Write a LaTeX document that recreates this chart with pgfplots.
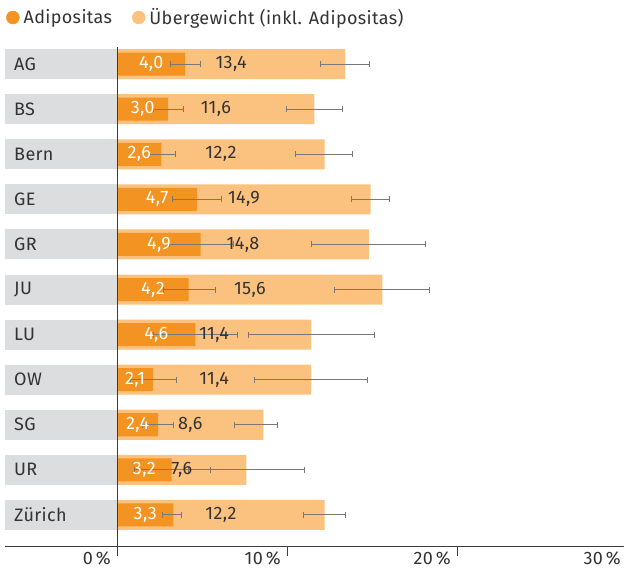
\documentclass[border=0pt]{standalone}
\usepackage{pgfplots}
\pgfplotsset{compat=1.18}
\usepackage{pgfplotstable}
\usepackage{fontspec}
\setmainfont{Fira Sans}[LetterSpace=2]
\definecolor{darkor}{HTML}{F39322}
\definecolor{lightor}{HTML}{FBC17F}
\definecolor{boxgray}{HTML}{DCDDDF}
\definecolor{errgray}{HTML}{787878}
\definecolor{txt}{HTML}{333333}
\definecolor{axisgray}{HTML}{3C3C3C}
\newcommand\lbl{\fontsize{18}{20}\selectfont}
\pgfplotstableread{
i name adip am ap over om op
0 AG 4.0 0.86 0.90 13.4 1.46 1.42
1 BS 3.0 0.88 0.88 11.6 1.64 1.62
2 Bern 2.6 0.72 0.85 12.2 1.69 1.64
3 GE 4.7 1.45 1.42 14.9 1.15 1.10
4 GR 4.9 1.80 1.92 14.8 3.39 3.32
5 JU 4.2 1.49 1.55 15.6 2.82 2.75
6 LU 4.6 2.48 2.47 11.4 3.69 3.70
7 OW 2.1 1.32 1.39 11.4 3.34 3.33
8 SG 2.4 0.91 0.93 8.6 1.72 0.83
9 UR 3.2 2.21 2.29 7.6 3.44 3.44
10 Zürich 3.3 0.63 0.46 12.2 1.26 1.23
}\data
\begin{document}
\begin{tikzpicture}
\path[use as bounding box] (0,0) rectangle (624pt,571pt);
\begin{axis}[
  at={(5pt,25pt)}, anchor=south west,
  scale only axis, width=622.3pt, height=499pt,
  xmin=-6.6, xmax=30, ymin=-0.38, ymax=10.69, y dir=reverse,
  axis x line*=bottom, axis y line*=left,
  y axis line style={draw=none},
  x axis line style={draw=axisgray, line width=1pt},
  xtick={0,10,20,30}, xticklabels={0\,\%,10\,\%,20\,\%,30\,\%},
  xtick align=outside, major tick length=10pt,
  xtick style={draw=axisgray, line width=1pt},
  xticklabel style={anchor=north east, xshift=-3pt, yshift=8pt, font=\lbl, text=txt},
  ytick={0,...,10}, yticklabels from table={\data}{name},
  ytick style={draw=none},
  yticklabel style={anchor=west, fill=boxgray, minimum height=30pt, text width=94pt, inner xsep=9pt, align=left, font=\lbl, text=txt},
  extra x ticks={0}, extra x tick labels={},
  extra x tick style={grid=major, major grid style={draw=axisgray, line width=1pt}},
  axis on top,
  clip=false,
  legend columns=2,
  legend cell align=left,
  legend style={at={(0,1)}, anchor=west, yshift=29.5pt, xshift=1pt, draw=none, fill=none, inner sep=0pt, font=\lbl, text=txt,
    nodes={inner xsep=0pt},
    /tikz/every odd column/.append style={column sep=4pt},
    /tikz/every even column/.append style={column sep=20pt}},
]
\addlegendimage{legend image code/.code={\fill[darkor] (6.5pt,0pt) circle (6.5pt);}}
\addlegendentry{Adipositas}
\addlegendimage{legend image code/.code={\fill[lightor] (6.5pt,0pt) circle (6.5pt);}}
\addlegendentry{Übergewicht (inkl. Adipositas)}

\addplot[xbar, bar width=30pt, bar shift=0pt, fill=lightor, draw=none, forget plot] table[x=over, y=i]{\data};
\addplot[xbar, bar width=23pt, bar shift=0pt, fill=darkor, draw=none, forget plot] table[x=adip, y=i]{\data};

\addplot[draw=none, mark=none, forget plot, point meta=explicit,
  nodes near coords={\pgfmathprintnumber[fixed,fixed zerofill,precision=1,use comma,assume math mode=true]{\pgfplotspointmeta}},
  nodes near coords style={anchor=center, text=txt, font=\lbl}]
  table[x expr=\thisrow{over}/2, y=i, meta=over]{\data};
\addplot[draw=none, mark=none, forget plot, point meta=explicit,
  nodes near coords={\pgfmathprintnumber[fixed,fixed zerofill,precision=1,use comma,assume math mode=true]{\pgfplotspointmeta}},
  nodes near coords style={anchor=center, text=white, font=\lbl}]
  table[x expr=\thisrow{adip}/2, y=i, meta=adip]{\data};

\addplot[draw=none, mark=none, forget plot,
  error bars/.cd, x dir=both, x explicit, error mark=|,
  error bar style={draw=errgray, line width=0.9pt},
  error mark options={draw=errgray, line width=0.9pt, mark size=3pt}]
  table[x=over, y=i, x error plus=op, x error minus=om]{\data};
\addplot[draw=none, mark=none, forget plot,
  error bars/.cd, x dir=both, x explicit, error mark=|,
  error bar style={draw=errgray, line width=0.9pt},
  error mark options={draw=errgray, line width=0.9pt, mark size=3pt}]
  table[x=adip, y=i, x error plus=ap, x error minus=am]{\data};
\end{axis}
\end{tikzpicture}
\end{document}
